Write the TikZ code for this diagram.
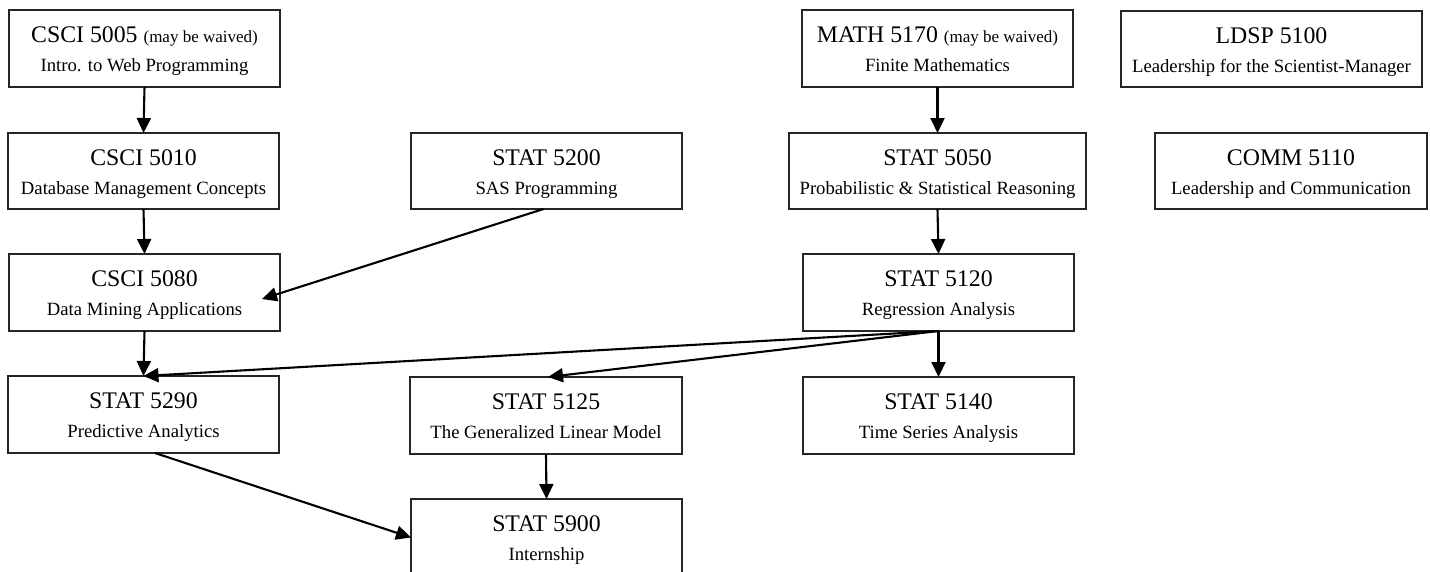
\documentclass[tikz,border=0pt]{standalone}
\usepackage{fontspec}
\setmainfont{Liberation Serif}
\usetikzlibrary{arrows.meta}
\tikzset{
  box/.style={draw=black!85, line width=1.4pt, inner sep=0pt, outer sep=0pt, fill=white},
  ttl/.style={anchor=base, inner sep=0pt, font=\fontsize{23.8}{26}\selectfont},
  sbt/.style={anchor=base, inner sep=0pt, font=\fontsize{18.7}{22}\selectfont},
  arr/.style={line width=2.1pt, -{Triangle[length=15pt,width=14pt]}}
}
\newcommand\crs[7]{%
  \node[box, minimum width={(#4-#2)*1pt}, minimum height={(#5-#3)*1pt}] (#1) at ({(#2+#4)/2},{(#3+#5)/2}) {};
  \node[ttl] (#1t) at ([yshift=-32.5pt]#1.north) {#6};
  \node[sbt] (#1s) at ([yshift=-61pt]#1.north) {#7};
}
\newcommand\wv{{\fontsize{17}{20}\selectfont (may be waived)}}
\begin{document}
\begin{tikzpicture}[x=1pt,y=-1pt]
\useasboundingbox (0,0) rectangle (1430,571);
\clip (0,0) rectangle (1430,571);
\crs{A}{9}{10}{280}{87}{CSCI 5005 \wv}{Intro. to Web Programming}
\crs{B}{8}{133}{279}{209}{CSCI 5010}{Database Management Concepts}
\crs{C}{411}{133}{682}{209}{STAT 5200}{SAS Programming}
\crs{D}{9}{254}{280}{331}{CSCI 5080}{Data Mining Applications}
\crs{E}{8}{376}{279}{453}{STAT 5290}{Predictive Analytics}
\crs{F}{410}{377}{682}{454}{STAT 5125}{The Generalized Linear Model}
\crs{G}{411}{499}{682}{576}{STAT 5900}{Internship}
\crs{H}{802}{10}{1073}{87}{MATH 5170 \wv}{Finite Mathematics}
\crs{I}{789}{133}{1086}{209}{STAT 5050}{Probabilistic \& Statistical Reasoning}
\crs{J}{803}{254}{1074}{331}{STAT 5120}{Regression Analysis}
\crs{K}{803}{377}{1074}{454}{STAT 5140}{Time Series Analysis}
\crs{L}{1121}{11}{1422}{87}{LDSP 5100}{Leadership for the Scientist-Manager}
\crs{M}{1155}{133}{1427}{209}{COMM 5110}{Leadership and Communication}
\coordinate (tipD) at (262,299);
\coordinate (fromE) at (155,453);
\draw[arr] (A.south) -- (B.north);
\draw[arr] (B.south) -- (D.north);
\draw[arr] ([xshift=-3pt]C.south) -- (tipD);
\draw[arr] (D.south) -- (E.north);
\draw[arr] (H.south) -- (I.north);
\draw[arr] (I.south) -- (J.north);
\draw[arr] (J.south) -- (K.north);
\draw[arr] (J.south) -- (E.north);
\draw[arr] (J.south) -- ([xshift=2pt]F.north);
\draw[arr] (F.south) -- (G.north);
\draw[arr] (fromE) -- (G.west);
\end{tikzpicture}
\end{document}
